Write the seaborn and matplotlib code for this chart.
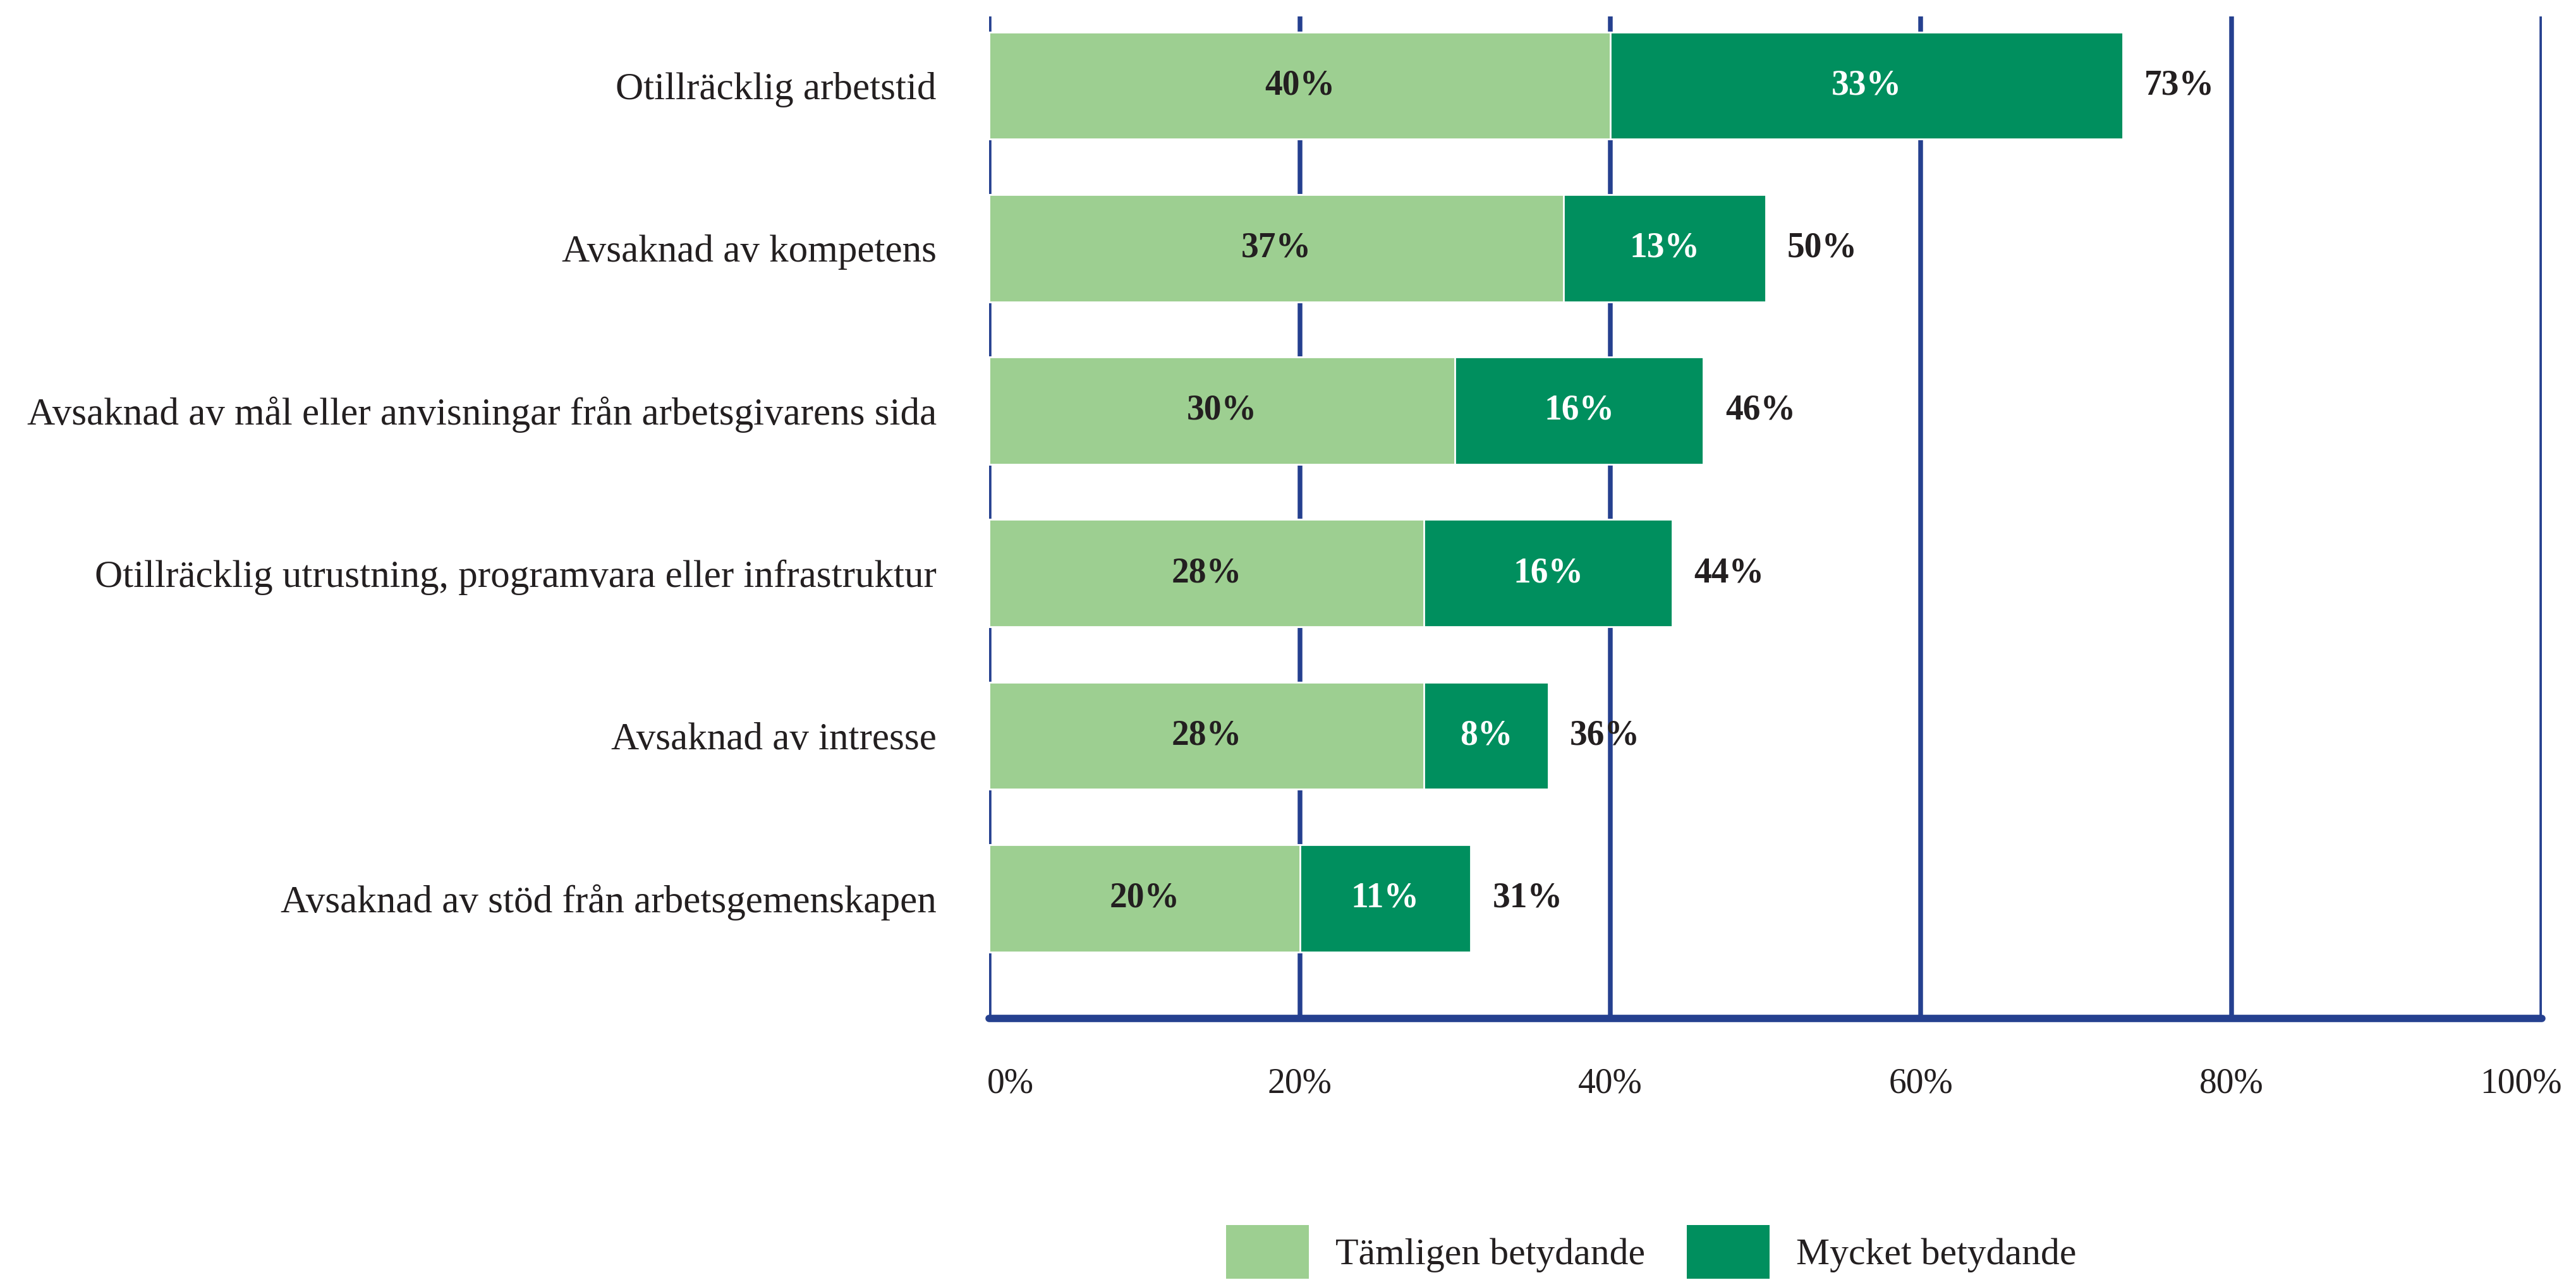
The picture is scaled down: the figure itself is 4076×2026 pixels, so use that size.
import matplotlib
matplotlib.use("Agg")
import matplotlib.pyplot as plt
import matplotlib.transforms as mtransforms
import seaborn as sns
import pandas as pd
from matplotlib.patches import Patch

categories = [
    "Otillräcklig arbetstid",
    "Avsaknad av kompetens",
    "Avsaknad av mål eller anvisningar från arbetsgivarens sida",
    "Otillräcklig utrustning, programvara eller infrastruktur",
    "Avsaknad av intresse",
    "Avsaknad av stöd från arbetsgemenskapen",
]
tamligen = [40, 37, 30, 28, 28, 20]
mycket = [33, 13, 16, 16, 8, 11]
totals = [73, 50, 46, 44, 36, 31]
xticks = [0, 20, 40, 60, 80, 100]
xticklabels = ["0%", "20%", "40%", "60%", "80%", "100%"]
series_names = ["Tämligen betydande", "Mycket betydande"]

LIGHT = "#9DCF91"
DARK = "#008F5E"
GRID = "#25408F"
TEXT = "#231F20"

sns.set_theme(style="white")
plt.rcParams["font.family"] = ["Liberation Serif", "DejaVu Serif"]

df = pd.DataFrame({"cat": categories, "light": tamligen, "dark": mycket, "total": totals})

fig = plt.figure(figsize=(20.38, 10.13), dpi=200)
ax = fig.add_axes([0.384, 0.2043, 0.9868 - 0.384, 0.987 - 0.2043])

for x in xticks:
    ax.axvline(x, color=GRID, lw=2.7, zorder=0)

sns.barplot(data=df, x="total", y="cat", color=DARK, saturation=1, width=0.66,
            orient="h", ax=ax, zorder=2)
sns.barplot(data=df, x="light", y="cat", color=LIGHT, saturation=1, width=0.66,
            orient="h", ax=ax, zorder=3)

ax.set_xlim(0, 100)
ax.set_ylim(5.74, -0.424)
ax.axhline(5.74, color=GRID, lw=4.2, zorder=4, clip_on=False)

NUM = 20
for i, (l, d, t) in enumerate(zip(tamligen, mycket, totals)):
    ax.text(l / 2, i, f"{l}%", ha="center", va="center", fontsize=NUM,
            fontweight="bold", color=TEXT, zorder=5)
    ax.text(l + d / 2, i, f"{d}%", ha="center", va="center", fontsize=NUM,
            fontweight="bold", color="white", zorder=5)
    ax.text(t + 1.4, i, f"{t}%", ha="left", va="center", fontsize=NUM,
            fontweight="bold", color=TEXT, zorder=5)

ax.set_xticks(xticks)
ax.set_xticklabels(xticklabels, fontsize=20, color=TEXT)
ax.tick_params(axis="x", length=0, pad=28)
ax.tick_params(axis="y", length=0, pad=30, labelsize=22, labelcolor=TEXT)
ax.set_xlabel("")
ax.set_ylabel("")
for s in ax.spines.values():
    s.set_visible(False)

# nudge end tick labels inward like the reference
xt = ax.get_xticklabels()
xt[0].set_transform(xt[0].get_transform() + mtransforms.ScaledTranslation(12 / 72, 0, fig.dpi_scale_trans))
xt[-1].set_transform(xt[-1].get_transform() + mtransforms.ScaledTranslation(-12 / 72, 0, fig.dpi_scale_trans))

handles = [Patch(facecolor=LIGHT, edgecolor="none"), Patch(facecolor=DARK, edgecolor="none")]
fig.legend(handles, series_names, loc="center", bbox_to_anchor=(0.641, 0.022), ncol=2,
           frameon=False, fontsize=21.5, handlelength=2.2, handleheight=1.8,
           handletextpad=0.7, columnspacing=1.1, labelcolor=TEXT)

fig.savefig("out.png", dpi=200)
